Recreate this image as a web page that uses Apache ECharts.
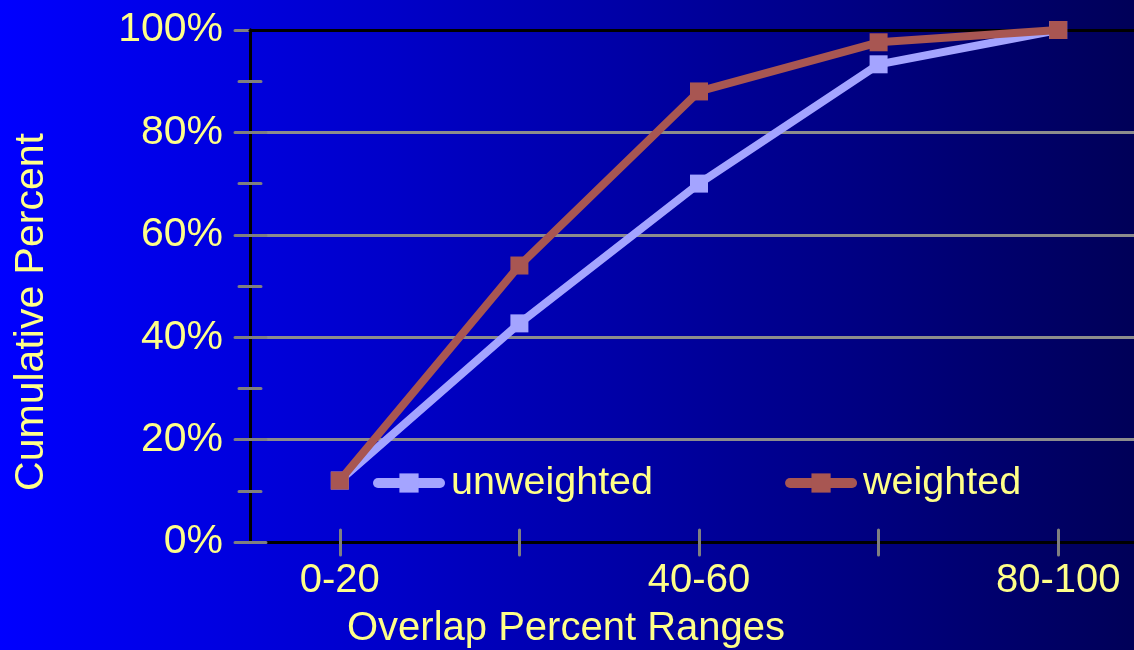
<!DOCTYPE html>
<html>
<head>
<meta charset="utf-8">
<script src="https://cdn.jsdelivr.net/npm/echarts@6/dist/echarts.min.js"></script>
<style>
html,body{margin:0;padding:0;overflow:hidden;width:1134px;height:650px;}
body{background:linear-gradient(90deg,#0000ff 0%,#0000c8 35%,#000058 100%);}
#c{width:1148px;height:650px;}
</style>
</head>
<body>
<div id="c"></div>
<script>
var categories = ['0-20', '20-40', '40-60', '60-80', '80-100'];
var unweighted = [12, 42.7, 70, 93.3, 100];
var weighted = [12, 54, 88, 97.6, 100];
var yTicks = [0, 20, 40, 60, 80, 100];

var txt = '#ffff88';
var font = 'Liberation Sans, Arial, sans-serif';
var chart = echarts.init(document.getElementById('c'), null, {renderer: 'canvas'});
var baseX = {
  type: 'category', data: categories, boundaryGap: true, position: 'bottom',
  axisLine: {lineStyle: {color: '#000', width: 3}},
  axisTick: {show: true, alignWithLabel: true, interval: 0, length: 13, lineStyle: {color: '#808080', width: 3, cap: 'round'}},
  axisLabel: {show: true, interval: 1, color: txt, fontSize: 40, fontFamily: font, margin: 19},
  splitLine: {show: false}
};
var baseY = {
  type: 'value', min: yTicks[0], max: yTicks[yTicks.length - 1], interval: 20, position: 'left',
  axisLine: {show: true, lineStyle: {color: '#000', width: 3}},
  axisTick: {show: true, length: 15, lineStyle: {color: '#808080', width: 3, cap: 'round'}},
  minorTick: {show: true, splitNumber: 2, length: 11, lineStyle: {color: '#808080', width: 3, cap: 'round'}},
  axisLabel: {color: txt, fontSize: 41, fontFamily: font, margin: 27, formatter: '{value}%'},
  splitLine: {show: true, lineStyle: {color: '#8c8c8c', width: 3}}
};
var x2 = echarts.util.merge(echarts.util.clone(baseX), {
  axisTick: {inside: true, length: 12}, axisLabel: {show: false}
}, true);
var x3 = {
  type: 'category', data: categories, boundaryGap: true, position: 'top', z: 1,
  axisLine: {show: true, lineStyle: {color: '#000', width: 3}},
  axisTick: {show: false}, axisLabel: {show: false}, splitLine: {show: false}
};
var y2 = echarts.util.merge(echarts.util.clone(baseY), {
  axisTick: {inside: true, length: 16}, minorTick: {length: 11}, axisLabel: {show: false}, splitLine: {show: false}
}, true);
y2.minorTick.inside = true;

chart.setOption({
  animation: false,
  backgroundColor: 'transparent',
  grid: {left: 250, top: 30, right: 0, height: 512, show: false, containLabel: false},
  legend: {
    left: 368, top: 458, itemWidth: 62, itemHeight: 24, itemGap: 132,
    lineStyle: {width: 10, cap: 'round'},
    textStyle: {color: txt, fontSize: 39.5, fontFamily: font, padding: [0, 0, 0, 6]},
    data: ['unweighted', 'weighted']
  },
  xAxis: [baseX, x2, x3],
  yAxis: [baseY, y2],
  graphic: [
    {type: 'text', position: [566, 629], style: {text: 'Overlap Percent Ranges', fill: txt, font: '40px ' + font, textAlign: 'center', textVerticalAlign: 'middle'}},
    {type: 'text', rotation: Math.PI / 2, position: [32, 312], style: {text: 'Cumulative Percent', fill: txt, font: '41px ' + font, textAlign: 'center', textVerticalAlign: 'middle'}}
  ],
  series: [
    {name: 'unweighted', type: 'line', data: unweighted, symbol: 'rect', symbolSize: 18, showSymbol: true,
     lineStyle: {color: '#a4a4ff', width: 8}, itemStyle: {color: '#a4a4ff'}, z: 3},
    {name: 'weighted', type: 'line', data: weighted, symbol: 'rect', symbolSize: 18, showSymbol: true,
     lineStyle: {color: '#a85652', width: 8}, itemStyle: {color: '#a85652'}, z: 4}
  ]
});
</script>
</body>
</html>
